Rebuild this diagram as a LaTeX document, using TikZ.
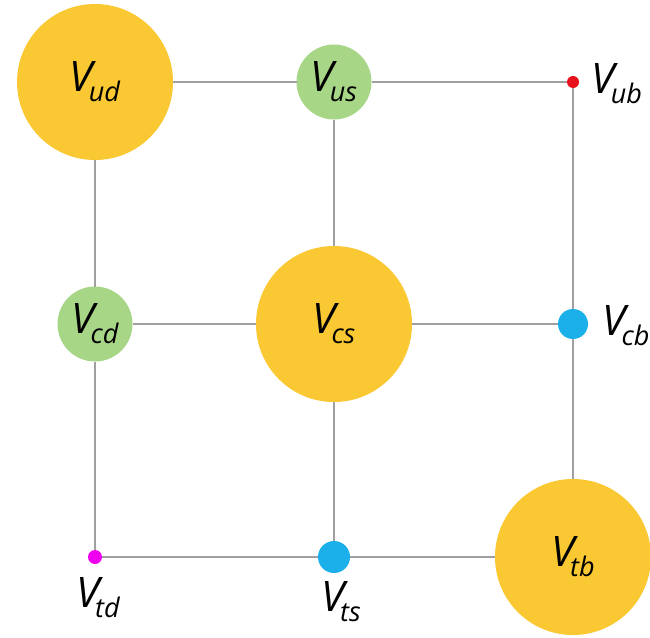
\documentclass[tikz,border=0pt]{standalone}
\usepackage{fontspec}
\setmainfont{Open Sans}
\definecolor{cyellow}{HTML}{FAC832}
\definecolor{cgreen}{HTML}{A8D687}
\definecolor{cblue}{HTML}{1CB0EA}
\definecolor{cred}{HTML}{E8111B}
\definecolor{cmag}{HTML}{F000F0}
\definecolor{cline}{HTML}{A0A0A0}
\newcommand\ckm[1]{{\fontsize{42}{44}\selectfont\itshape V\kern-0.1em\raisebox{-0.24em}{\fontsize{27}{28}\selectfont #1}}}
\begin{document}
\begin{tikzpicture}[x=1pt,y=-1pt,
  dot/.style={circle,inner sep=0pt,outer sep=0pt,draw=none},
  bigdot/.style={dot,fill=cyellow,minimum size=156pt},
  middot/.style={dot,fill=cgreen,minimum size=75pt},
  bluedot/.style={dot,fill=cblue,minimum size=#1},
  gridline/.style={draw=cline,line width=1.3pt},
  lab/.style={inner sep=0pt}]
\fill[white] (0,0) rectangle (650,637);
\useasboundingbox (0,0) rectangle (650,637);
% nodes
\node[bigdot] (ud) at (95,82) {\ckm{ud}};
\node[middot] (us) at (334,82) {\ckm{us}};
\node[dot,fill=cred,minimum size=12pt] (ub) at (573,82) {};
\node[middot] (cd) at (95,324) {\ckm{cd}};
\node[bigdot] (cs) at (334,324) {\ckm{cs}};
\node[bluedot=30pt] (cb) at (573,324) {};
\node[dot,fill=cmag,minimum size=14pt] (td) at (95,557) {};
\node[bluedot=32pt] (ts) at (334,557) {};
\node[bigdot] (tb) at (573,557) {\ckm{tb}};
% outside labels
\node[lab] (lub) at (617,84) {\ckm{ub}};
\node[lab] (lcb) at (626,326) {\ckm{cb}};
\node[lab] (ltd) at (98,598) {\ckm{td}};
\node[lab] (lts) at (341,602) {\ckm{ts}};
% grid lines
\path[gridline] (ud) -- (us);
\path[gridline] (us) -- (ub);
\path[gridline] (cd) -- (cs);
\path[gridline] (cs) -- (cb);
\path[gridline] (td) -- (ts);
\path[gridline] (ts) -- (tb);
\path[gridline] (ud) -- (cd);
\path[gridline] (cd) -- (td);
\path[gridline] (us) -- (cs);
\path[gridline] (cs) -- (ts);
\path[gridline] (ub) -- (cb);
\path[gridline] (cb) -- (tb);
\end{tikzpicture}
\end{document}
